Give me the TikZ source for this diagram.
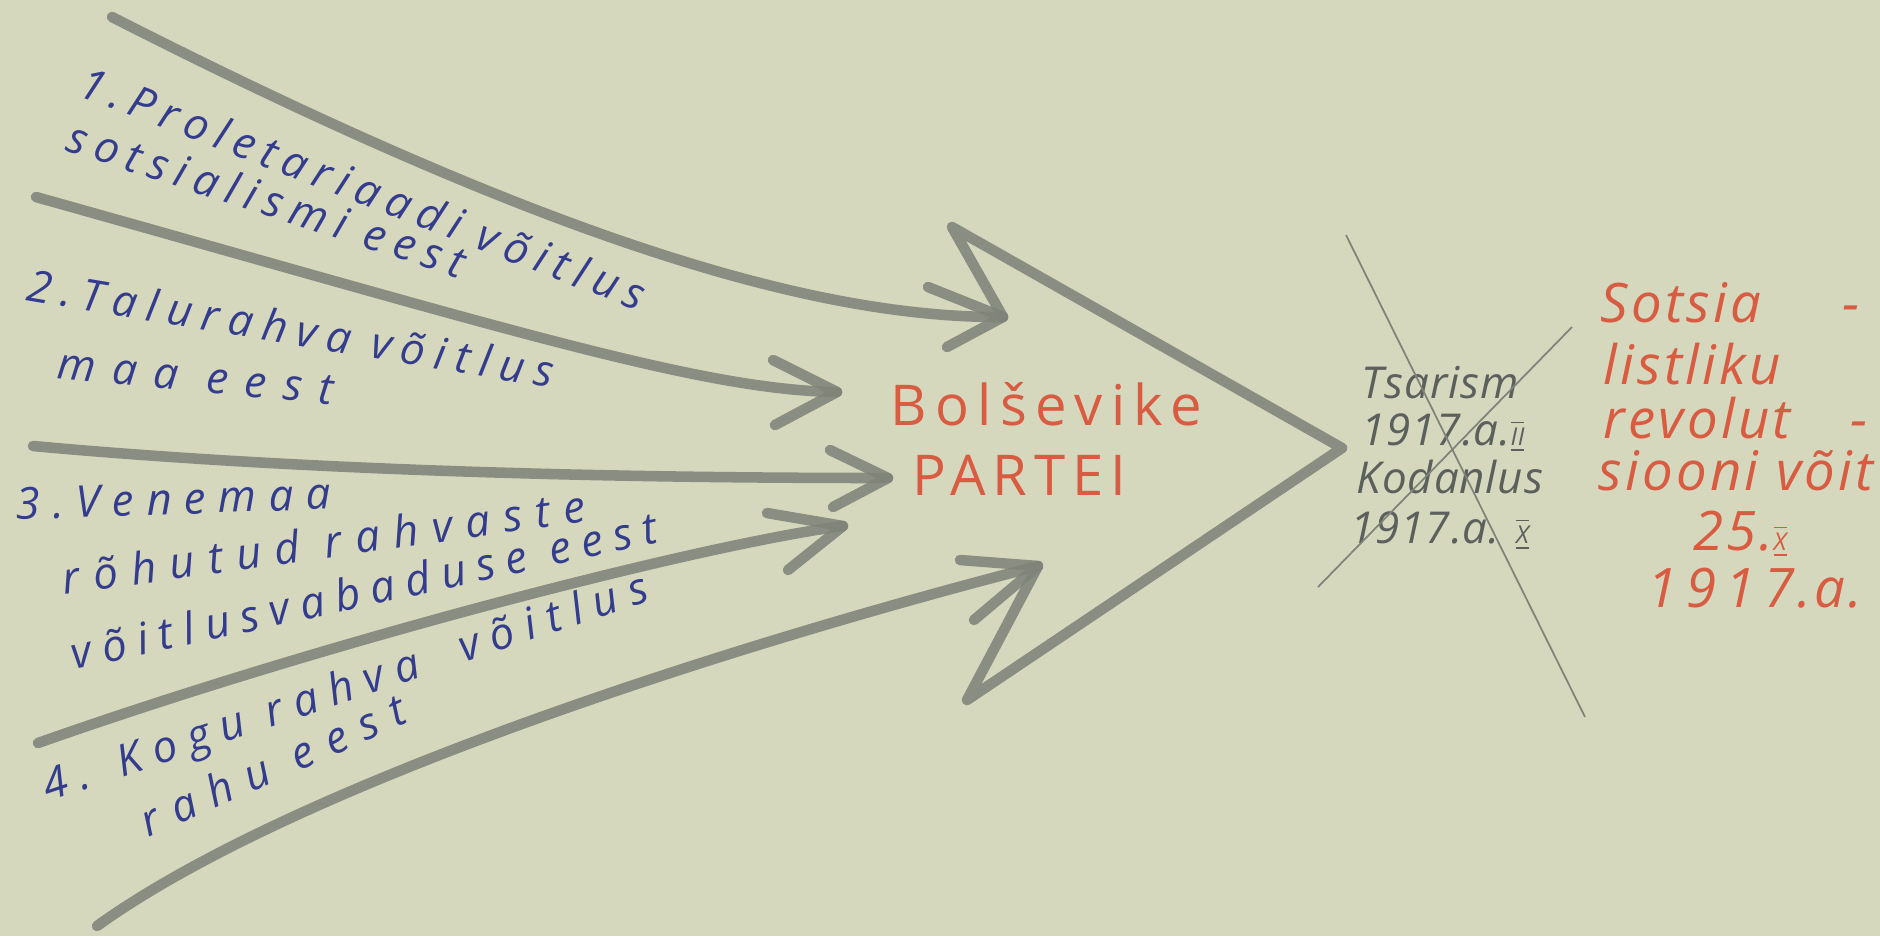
\documentclass[tikz,border=0pt]{standalone}
\usepackage{fontspec}
\setmainfont{Open Sans}
\newfontfamily\inkfont{Open Sans}
\newfontfamily\notefont{Open Sans}[LetterSpace=2]
\newfontfamily\redfont{Open Sans}[LetterSpace=6]
\definecolor{paper}{RGB}{214,216,189}
\definecolor{graphite}{RGB}{128,131,121}
\definecolor{inkblue}{RGB}{52,60,142}
\definecolor{crayonred}{RGB}{216,92,66}
\definecolor{leadgray}{RGB}{92,96,92}
\usetikzlibrary{positioning}

\begin{document}
\begin{tikzpicture}[x=0.1mm, y=-0.1mm,
    pencil/.style={draw=graphite, line width=3pt, line cap=round, line join=round, opacity=0.88},
    thinline/.style={draw=graphite, line width=0.5pt},
    blue/.style={anchor=base west, inner sep=0pt, text=inkblue,
        font=\inkfont\itshape\addfontfeature{LetterSpace=#1}\fontsize{12.5}{14}\selectfont},
    party/.style={anchor=base west, inner sep=0pt, text=crayonred,
        font=\inkfont\addfontfeature{LetterSpace=#1}\fontsize{16}{18}\selectfont},
    result/.style={anchor=base west, inner sep=0pt, text=crayonred, font=\redfont\itshape\fontsize{15.5}{17}\selectfont},
    note/.style={anchor=base west, inner sep=0pt, text=leadgray, font=\notefont\itshape\fontsize{12.5}{15}\selectfont},
]
    \fill[paper] (0,0) rectangle (1880,936);
    \useasboundingbox (0,0) rectangle (1880,936);

    % start and tip of each stroke
    \coordinate (s1) at (112,17);   \coordinate (t1) at (1003,317);
    \coordinate (s2) at (36,197);   \coordinate (t2) at (837,392);
    \coordinate (s3) at (33,446);   \coordinate (t3) at (888,478);
    \coordinate (s4) at (38,743);   \coordinate (t4) at (843,526);
    \coordinate (s5) at (97,926);   \coordinate (t5) at (1038,566);

    \draw[pencil] (s1) .. controls (560,245) and (820,318) .. (t1);
    \draw[pencil] (s2) .. controls (500,327) and (700,390) .. (t2);
    \draw[pencil] (s3) .. controls (350,475) and (700,478) .. (t3);
    \draw[pencil] (s4) .. controls (330,640) and (700,545) .. (t4);
    \draw[pencil] (s5) .. controls (300,780) and (750,640) .. (t5);

    \draw[pencil] (928,287) -- (t1) -- (947,347);
    \draw[pencil] (773,360) -- (t2) -- (775,425);
    \draw[pencil] (830,450) -- (t3) -- (833,507);
    \draw[pencil] (767,513) -- (t4) -- (788,570);
    \draw[pencil] (960,560) -- (t5) -- (974,620);

    % the big arrow
    \coordinate (bigtop) at (952,227);
    \coordinate (bigtip) at (1342,448);
    \coordinate (bigbot) at (967,700);
    \draw[pencil] (t1) -- (bigtop) -- (bigtip) -- (bigbot) -- (t5);

    \node[party=15] (bol) at (890,425) {Bolševike};
    \node[party=12] (partei) at (912,495) {PARTEI};

    % the four struggles
    \node[blue=19, rotate=-21] (p1a) at (76,95) {1.Proletariaadi võitlus};
    \node[blue=20, rotate=-18] (p1b) at (64,150) {sotsialismi eest};
    \node[blue=22, rotate=-9.5] (p2a) at (25,300) {2.Talurahva võitlus};
    \node[blue=38, rotate=-5.5] (p2b) at (56,378) {maa eest};
    \node[blue=28, rotate=2] (p3a) at (16,520) {3.Venemaa};
    \node[blue=31, rotate=8] (p3b) at (64,595) {rõhutud rahvaste};
    \node[blue=25, rotate=12.3] (p3c) at (74,670) {võitlusvabaduse eest};
    \node[blue=27, rotate=18.5] (p4a) at (48,802) {4. Kogu rahva\quad võitlus};
    \node[blue=34, rotate=24] (p4b) at (148,838) {rahu eest};

    % overthrown
    \node[note] (tsar) at (1361,398) {Tsarism};
    \node[note] (feb) at (1361,445) {1917.a.$\overline{\underline{\mbox{\scriptsize II}}}$};
    \node[note] (kod) at (1356,493) {Kodanlus};
    \node[note] (okt) at (1350,543) {1917.a. $\overline{\underline{\mbox{\scriptsize X}}}$};
    \draw[thinline] (1346,235) -- (1585,717);
    \draw[thinline] (1572,327) -- (1318,587);

    % the victory
    \node[result] (r1) at (1600,322) {Sotsia\hspace{1.5em}-};
    \node[result] (r2) at (1603,384) {listliku};
    \node[result] (r3) at (1603,438) {revolut\hspace{1.1em}-};
    \node[result] (r4) at (1598,490) {siooni võit};
    \node[result, anchor=base] (r5) at (1740,550) {25.$\overline{\underline{\mbox{\scriptsize X}}}$};
    \node[result, anchor=base] (r6) at (1755,607) {1\,9\,1\,7.a.};
\end{tikzpicture}
\end{document}
